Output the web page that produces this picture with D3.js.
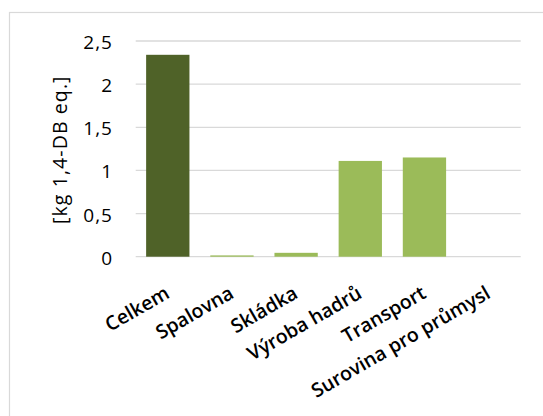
<!DOCTYPE html>
<html>
<head>
<meta charset="utf-8">
<script src="https://cdn.jsdelivr.net/npm/d3@7"></script>
<style>
  html, body { margin: 0; padding: 0; background: #fff; }
  svg { display: block; }
  text { font-family: "Open Sans", "DejaVu Sans", sans-serif; fill: #000; }
</style>
</head>
<body>
<svg id="chart" width="543" height="416"></svg>
<script>
// Toxicity contributions by life-cycle stage
const categories = ["Celkem", "Spalovna", "Skládka", "Výroba hadrů", "Transport", "Surovina pro průmysl"];
const values = [2.34, 0.015, 0.045, 1.11, 1.15, 0];
const yTicks = [0, 0.5, 1, 1.5, 2, 2.5];
const yTickLabels = ["0", "0,5", "1", "1,5", "2", "2,5"];
const yTitle = "[kg 1,4-DB eq.]";

const svg = d3.select("#chart");
const plot = { left: 135.7, right: 520.7, top: 41, bottom: 256.7 };

// outer chart frame (runs off the right and bottom edge)
svg.append("rect")
  .attr("x", 9.5).attr("y", 12.5)
  .attr("width", 700).attr("height", 700)
  .attr("fill", "#fff")
  .attr("stroke", "#d9d9d9").attr("stroke-width", 1.2);

const x = d3.scaleBand()
  .domain(categories)
  .range([plot.left, plot.right])
  .paddingInner(0.325)
  .paddingOuter(0.1625);

const y = d3.scaleLinear()
  .domain([0, 2.5])
  .range([plot.bottom, plot.top]);

// horizontal gridlines
svg.append("g")
  .selectAll("line")
  .data(yTicks)
  .join("line")
  .attr("x1", plot.left).attr("x2", plot.right)
  .attr("y1", d => y(d)).attr("y2", d => y(d))
  .attr("stroke", "#d9d9d9").attr("stroke-width", 1.3);

// value axis labels
svg.append("g")
  .selectAll("text")
  .data(yTicks)
  .join("text")
  .attr("x", 113)
  .attr("y", d => y(d) + 8)
  .attr("text-anchor", "end")
  .attr("font-size", 19)
  .attr("letter-spacing", 1)
  .text((d, i) => yTickLabels[i]);

// axis title
svg.append("text")
  .attr("transform", `translate(67, 149.7) rotate(-90)`)
  .attr("text-anchor", "middle")
  .attr("font-size", 19.5)
  .attr("letter-spacing", 1.1)
  .text(yTitle);

// bars: total in dark green, stages in light green
svg.append("g")
  .selectAll("rect")
  .data(categories)
  .join("rect")
  .attr("x", d => x(d))
  .attr("width", x.bandwidth())
  .attr("y", (d, i) => y(Math.max(0, values[i])))
  .attr("height", (d, i) => Math.abs(y(values[i]) - y(0)))
  .attr("fill", (d, i) => i === 0 ? "#4f6228" : "#9bbb59");

// rotated category labels
svg.append("g")
  .selectAll("text")
  .data(categories)
  .join("text")
  .attr("transform", d => `translate(${x(d) + x.bandwidth() / 2 + 3}, 297) rotate(-30)`)
  .attr("text-anchor", "end")
  .attr("font-size", 19.5)
  .attr("font-weight", 600)
  .text(d => d);
</script>
</body>
</html>
